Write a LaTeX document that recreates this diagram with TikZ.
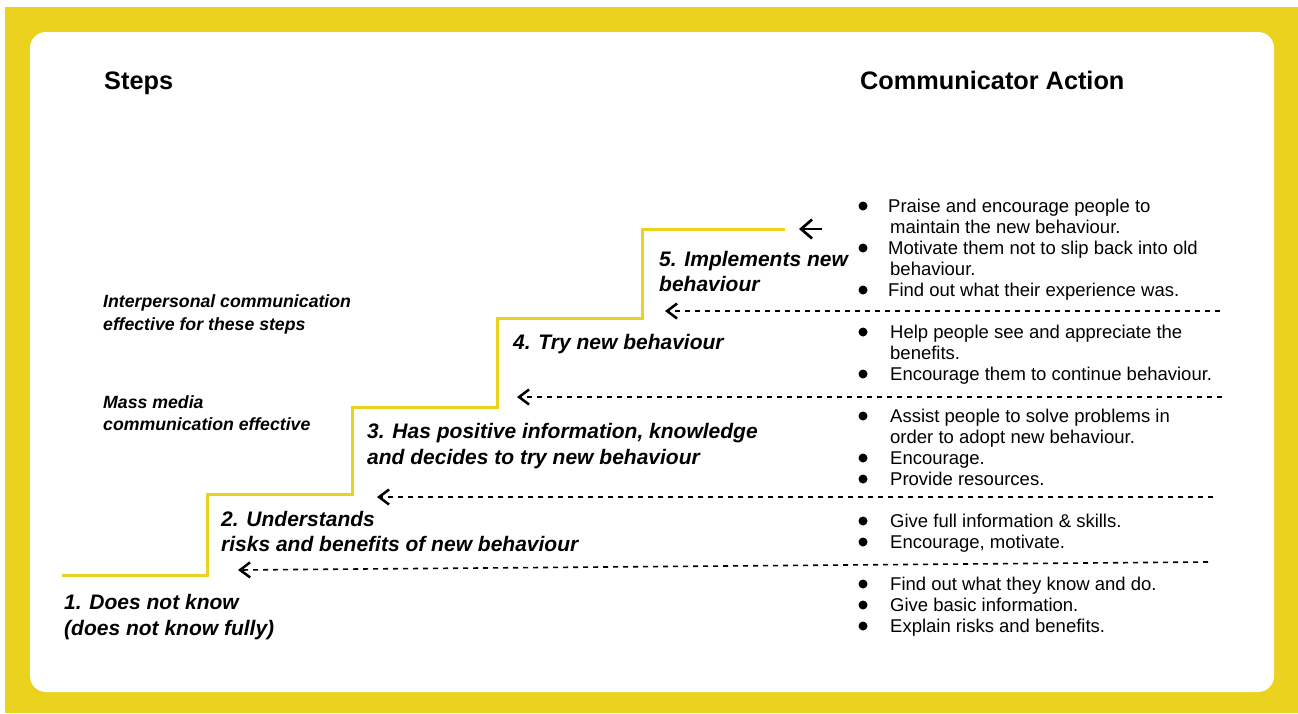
\documentclass[tikz,border=0pt]{standalone}
\usepackage{fontspec}
\setmainfont{Liberation Sans}
\usetikzlibrary{arrows.meta}
\definecolor{stairyellow}{RGB}{235,210,30}
\begin{document}
\begin{tikzpicture}[x=1pt,y=-1pt,
 headtext/.style={anchor=base west, inner sep=0, font=\fontsize{25.3}{30}\selectfont\bfseries},
 steptext/.style={anchor=base west, inner sep=0, font=\fontsize{21}{25}\selectfont\bfseries\itshape},
 notetext/.style={anchor=base west, inner sep=0, font=\fontsize{17.7}{23}\selectfont\bfseries\itshape},
 actiontext/.style={anchor=base west, inner sep=0, font=\fontsize{18.5}{21}\selectfont},
 bulletdot/.style={circle, fill=black, inner sep=0, minimum size=9pt},
 stair/.style={draw=stairyellow, line width=3pt},
 guideline/.style={draw=black, line width=1.6pt, dash pattern=on 5pt off 5pt, -{Straight Barb[length=10pt,width=15pt,line width=2.5pt]}},
]
\useasboundingbox (0,0) rectangle (1298,713);
\fill[white] (0,0) rectangle (1298,713);
\fill[stairyellow] (5,7) rectangle (1298,713);
\fill[white, rounded corners=16pt] (30,32) rectangle (1274,692);

% headings
\node[headtext] (hsteps) at (104,89) {Steps};
\node[headtext] (haction) at (860,89) {Communicator Action};

% notes
\node[notetext] (n1a) at (103,307) {Interpersonal communication};
\node[notetext] (n1b) at (103,330) {effective for these steps};
\node[notetext] (n2a) at (103,408) {Mass media};
\node[notetext] (n2b) at (103,430) {communication effective};

% stair
\coordinate (s0) at (62,575);
\coordinate (s1) at (207,575);
\coordinate (s2) at (207,494);
\coordinate (s3) at (352,494);
\coordinate (s4) at (352,407);
\coordinate (s5) at (497,407);
\coordinate (s6) at (497,318);
\coordinate (s7) at (642,318);
\coordinate (s8) at (642,229);
\coordinate (s9) at (785,229);
\draw[stair] (s0) -- (s1) -- (s2) -- (s3) -- (s4) -- (s5) -- (s6) -- (s7) -- (s8) -- (s9);

% step labels
\node[steptext] (st5a) at (659,266) {5. Implements new};
\node[steptext] (st5b) at (659,291) {behaviour};
\node[steptext] (st4) at (513,349) {4. Try new behaviour};
\node[steptext] (st3a) at (367,438) {3. Has positive information, knowledge};
\node[steptext] (st3b) at (367,464) {and decides to try new behaviour};
\node[steptext] (st2a) at (221,526) {2. Understands};
\node[steptext] (st2b) at (221,551) {risks and benefits of new behaviour};
\node[steptext] (st1a) at (64,609) {1. Does not know};
\node[steptext] (st1b) at (64,635) {(does not know fully)};

% arrows
\coordinate (t5s) at (822,229);
\coordinate (t5e) at (799,229);
\draw[black, line width=2.4pt, -{Straight Barb[length=11pt,width=19pt,line width=2.7pt]}] (t5s) -- (t5e);
\coordinate (g4s) at (1220,311);
\coordinate (g4e) at (665,311);
\draw[guideline] (g4s) -- (g4e);
\coordinate (g3s) at (1222,397);
\coordinate (g3e) at (517,397);
\draw[guideline] (g3s) -- (g3e);
\coordinate (g2s) at (1213,497);
\coordinate (g2e) at (377,497);
\draw[guideline] (g2s) -- (g2e);
\coordinate (g1s) at (1208,562);
\coordinate (g1e) at (238,570);
\draw[guideline] (g1s) -- (g1e);

% communicator actions
\node[bulletdot] (b5a) at (863,206) {};
\node[actiontext] (a5a) at (888,212) {Praise and encourage people to};
\node[actiontext] (a5b) at (890,233) {maintain the new behaviour.};
\node[bulletdot] (b5b) at (863,248) {};
\node[actiontext] (a5c) at (888,254) {Motivate them not to slip back into old};
\node[actiontext] (a5d) at (890,275) {behaviour.};
\node[bulletdot] (b5c) at (863,290) {};
\node[actiontext] (a5e) at (888,296) {Find out what their experience was.};

\node[bulletdot] (b4a) at (863,332) {};
\node[actiontext] (a4a) at (890,338) {Help people see and appreciate the};
\node[actiontext] (a4b) at (890,359) {benefits.};
\node[bulletdot] (b4b) at (863,374) {};
\node[actiontext] (a4c) at (890,380) {Encourage them to continue behaviour.};

\node[bulletdot] (b3a) at (863,416) {};
\node[actiontext] (a3a) at (890,422) {Assist people to solve problems in};
\node[actiontext] (a3b) at (890,443) {order to adopt new behaviour.};
\node[bulletdot] (b3b) at (863,458) {};
\node[actiontext] (a3c) at (890,464) {Encourage.};
\node[bulletdot] (b3c) at (863,479) {};
\node[actiontext] (a3d) at (890,485) {Provide resources.};

\node[bulletdot] (b2a) at (863,521) {};
\node[actiontext] (a2a) at (890,527) {Give full information \& skills.};
\node[bulletdot] (b2b) at (863,542) {};
\node[actiontext] (a2b) at (890,548) {Encourage, motivate.};

\node[bulletdot] (b1a) at (863,584) {};
\node[actiontext] (a1a) at (890,590) {Find out what they know and do.};
\node[bulletdot] (b1b) at (863,605) {};
\node[actiontext] (a1b) at (890,611) {Give basic information.};
\node[bulletdot] (b1c) at (863,626) {};
\node[actiontext] (a1c) at (890,632) {Explain risks and benefits.};
\end{tikzpicture}
\end{document}
